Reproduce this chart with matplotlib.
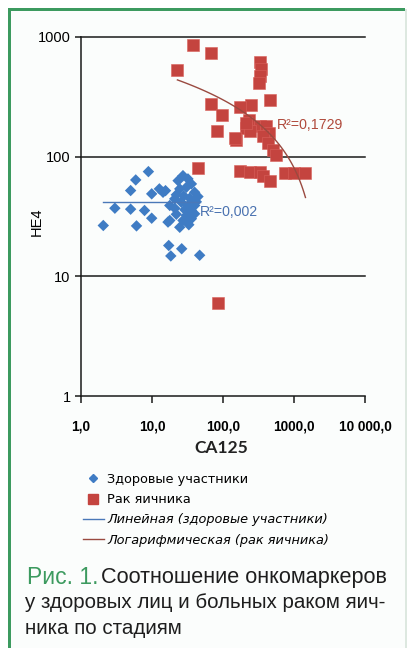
import matplotlib
matplotlib.use("Agg")
import matplotlib.pyplot as plt
from matplotlib.patches import Rectangle
from matplotlib.lines import Line2D
import numpy as np

# ---------------- data ----------------
healthy_ca125 = [2.06, 3.0, 5.0, 5.9, 8.9, 5.0, 6.05, 7.85, 9.9, 9.9, 12.7, 15.5,
                 16.8, 17.2, 18.4, 26.2, 46.9, 44.4, 23.3, 27.3, 32.1, 35.9, 30.5,
                 24.6, 39.9, 20.9, 17.8, 25.9, 32.1, 39.9, 35.9, 30.5, 27.3, 35.9,
                 39.9, 24.6, 17.8, 14.3, 22.0, 28.0, 34.0, 21.0, 29.0, 42.0, 33.0,
                 22.0]
healthy_he4 = [26.6, 37.1, 52.1, 63.9, 75.0, 36.4, 26.4, 35.5, 30.6, 48.9, 53.8, 52.0,
               28.4, 18.1, 14.8, 17.0, 15.0, 46.4, 63.0, 69.4, 65.2, 59.2, 55.5,
               53.8, 50.4, 44.4, 39.1, 41.6, 39.1, 39.1, 35.5, 32.3, 29.3, 30.3,
               33.3, 25.7, 29.3, 50.4, 48.0, 47.0, 45.0, 37.0, 36.0, 42.0, 27.0,
               33.0]

cancer_ca125 = [37.8, 67, 22.8, 330, 345, 335, 325, 462, 67, 250, 175, 98, 231, 212,
                83, 150, 327, 405, 451, 363, 427, 503, 561, 237, 44, 171, 237, 327,
                363, 462, 735, 1013, 1450, 84.8, 212, 147]
cancer_he4 = [858, 740, 531, 620, 540, 470, 410, 299, 276, 271, 260, 221, 203, 173,
              165, 139, 179, 179, 158, 148, 130, 114, 103, 163, 80.5, 76.5, 74, 74,
              69.4, 63, 72.6, 72.6, 72.6, 6.0, 191, 143]

# trend lines
healthy_trend_level = 41.6            # linear trend (almost flat)
cancer_log_slope = -94.5              # y = a*ln(x) + b
cancer_log_intercept = 733.5
r2_healthy = "R²=0,002"
r2_cancer = "R²=0,1729"

x_ticks = [1, 10, 100, 1000, 10000]
x_tick_labels = ["1,0", "10,0", "100,0", "1000,0", "10 000,0"]
y_ticks = [1, 10, 100, 1000]
y_tick_labels = ["1", "10", "100", "1000"]

legend_labels = ["Здоровые участники", "Рак яичника",
                 "Линейная (здоровые участники)", "Логарифмическая (рак яичника)"]
caption_head = "Рис. 1."
caption_lines = ["Соотношение онкомаркеров",
                 "у здоровых лиц и больных раком яич-",
                 "ника по стадиям"]

# ---------------- styling ----------------
W, H = 412, 648
BLUE = "#3f7cc4"
RED = "#c4443f"
GREEN = "#3c9a5f"


def fx(px):
    return px / W


def fy(py):
    return 1 - py / H


fig = plt.figure(figsize=(W / 100, H / 100), dpi=100)
fig.patch.set_facecolor("white")

# panel background and green frame
fig.patches.append(Rectangle((fx(9), 0), fx(406) - fx(9), fy(9), transform=fig.transFigure,
                             facecolor="#fbfdfc", edgecolor="none", zorder=-10))
fig.patches.append(Rectangle((fx(8), 0), 3 / W, fy(8), transform=fig.transFigure,
                             facecolor=GREEN, edgecolor="none", zorder=-5))
fig.patches.append(Rectangle((fx(8), fy(11)), fx(405) - fx(8), 3 / H, transform=fig.transFigure,
                             facecolor=GREEN, edgecolor="none", zorder=-5))
fig.patches.append(Rectangle((fx(405), 0), 1.5 / W, fy(9), transform=fig.transFigure,
                             facecolor="#dde8e0", edgecolor="none", zorder=-5))

ax = fig.add_axes([fx(81), fy(396), fx(365) - fx(81), fy(37) - fy(396)])
ax.set_zorder(5)
ax.patch.set_visible(False)
ax.set_xscale("log")
ax.set_yscale("log")
ax.set_xlim(1, 10000)
ax.set_ylim(1, 1000)

for v in [10, 100, 1000]:
    ax.axhline(v, color="#1a1a1a", lw=1.1, zorder=1, clip_on=False)

ax.scatter(cancer_ca125, cancer_he4, marker="s", s=66, color=RED, edgecolors="#d8605a",
           linewidths=0.4, zorder=3)
ax.scatter(healthy_ca125, healthy_he4, marker="D", s=34, color=BLUE, edgecolors="none",
           zorder=4)

# trend lines
hx = np.array([min(healthy_ca125), max(healthy_ca125)])
ax.plot(hx, [healthy_trend_level] * 2, color="#4a78b8", lw=1, zorder=5)
cx = np.geomspace(min(cancer_ca125), max(cancer_ca125), 100)
ax.plot(cx, cancer_log_slope * np.log(cx) + cancer_log_intercept, color="#9a4a40",
        lw=1, zorder=5)

ax.text(566, 185, r2_cancer, color="#b04a3c", fontsize=10.2, family="Liberation Sans",
        va="center", ha="left", zorder=6)
ax.text(47, 34.8, r2_healthy, color="#4a72b0", fontsize=10.2, family="Liberation Sans",
        va="center", ha="left", zorder=6)

for s in ["top", "right"]:
    ax.spines[s].set_visible(False)
for s in ["left", "bottom"]:
    ax.spines[s].set_color("#1a1a1a")
    ax.spines[s].set_linewidth(1.1)

ax.set_xticks(x_ticks)
ax.set_xticklabels(x_tick_labels, family="Liberation Sans", fontsize=9.8, fontweight="bold")
ax.set_yticks(y_ticks)
ax.set_yticklabels(y_tick_labels, family="Liberation Sans", fontsize=10.5)
ax.minorticks_off()
ax.tick_params(axis="x", length=5, width=1.1, color="#1a1a1a", pad=12)
ax.tick_params(axis="y", length=4, width=1.1, color="#1a1a1a", pad=3.5)

fig.text(fx(37), fy(222), "HE4", rotation=90, ha="center", va="center",
         family="Liberation Sans", fontsize=10.5)
fig.text(fx(221), fy(448), "CA125", ha="center", va="center", family="Lato",
         fontsize=12.5, fontweight="bold", color="#222222")

# legend
handles = [Line2D([], [], marker="D", color=BLUE, ls="none", markersize=4.5),
           Line2D([], [], marker="s", color=RED, ls="none", markersize=6.5),
           Line2D([], [], color="#4a78b8", lw=1),
           Line2D([], [], color="#9a4a40", lw=1)]
leg = fig.legend(handles, legend_labels, loc="upper left",
                 bbox_to_anchor=(fx(83), fy(473)), frameon=False,
                 prop={"family": "DejaVu Sans", "size": 9.3}, handlelength=1.6,
                 handletextpad=0.25, labelspacing=0.56, borderpad=0, borderaxespad=0)
for t in leg.get_texts()[2:]:
    t.set_style("italic")

# caption
fs = 14.8
fig.text(fx(27), fy(578), caption_head, color=GREEN, fontsize=16.5,
         family="Liberation Sans", va="center", ha="left")
fig.text(fx(101), fy(578), caption_lines[0], color="#1e1e1e", fontsize=fs + 0.8,
         family="Liberation Sans", va="center", ha="left")
fig.text(fx(25), fy(603), caption_lines[1], color="#1e1e1e", fontsize=fs,
         family="Liberation Sans", va="center", ha="left")
fig.text(fx(25), fy(628), caption_lines[2], color="#1e1e1e", fontsize=fs,
         family="Liberation Sans", va="center", ha="left")

fig.savefig("out.png", dpi=100, facecolor=fig.get_facecolor())
